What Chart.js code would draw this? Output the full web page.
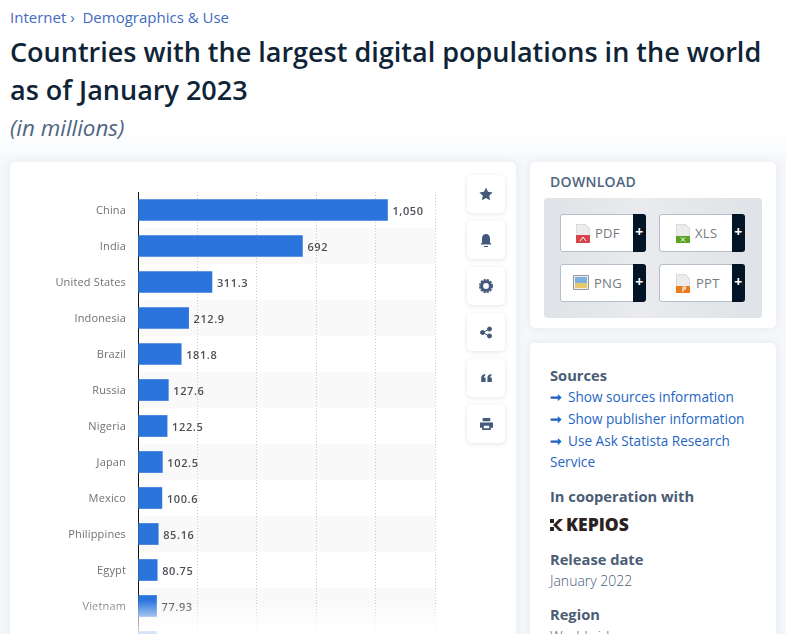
<!DOCTYPE html>
<html>
<head>
<meta charset="utf-8">
<title>Digital populations</title>
<script src="https://cdn.jsdelivr.net/npm/chart.js@4/dist/chart.umd.min.js"></script>
<style>
  html, body { margin: 0; padding: 0; width: 786px; height: 634px; overflow: hidden; font-family: "Open Sans", sans-serif; }
  body { background: linear-gradient(#fff 130px, #f5f7fa 165px); }
  .abs, .card, .side, .btn { position: absolute; }
  .line { position: absolute; white-space: nowrap; line-height: 22px; }
  .crumb { left: 10px; top: 6px; font-size: 15px; color: #3f6bc0; }
  h1 { position: absolute; left: 10px; top: 33px; margin: 0; font-size: 27px; line-height: 38px; font-weight: 600; color: #0f2437; width: 765px; }
  .sub { left: 10px; top: 114px; font-size: 22.4px; line-height: 28px; font-style: italic; color: #4e6580; }
  .card { background: #fff; border-radius: 5px; box-shadow: 0 0 8px rgba(90,110,140,.10); }
  .side { left: 467px; width: 38px; height: 38px; background: #fff; border-radius: 5px; box-shadow: 0 1px 5px rgba(90,110,140,.18); display: flex; align-items: center; justify-content: center; }
  .grey { position: absolute; left: 544px; top: 198px; width: 218px; height: 120px; border-radius: 4px; background: linear-gradient(90deg, #dfe2e6, #e9ebee 45%, #dfe2e6); }
  .btn { width: 86px; height: 38px; background: #fff; border: 1px solid #b5bdc8; border-radius: 3px; box-sizing: border-box; font-size: 13px; color: #757b82; letter-spacing: .3px; }
  .btn b { position: absolute; right: -1px; top: -1px; width: 13px; height: 38px; background: #031426; color: #fff; border-radius: 0 3px 3px 0; text-align: center; font-size: 14px; line-height: 36px; }
  .btn span { position: absolute; top: 9px; }
  .btn svg { position: absolute; top: 9px; }
  .head { font-size: 14.7px; font-weight: 700; color: #4a5d75; }
  .link { font-size: 13.6px; color: #1f66c4; }
  .link i { font-style: normal; display: inline-block; width: 18px; font-weight: 700; }
  .plain { font-size: 14px; font-weight: 300; color: #4a5d75; }
  #wrap { position: absolute; left: 10px; top: 162px; width: 450px; height: 520px; }
  #fade { position: absolute; left: 10px; top: 600px; width: 506px; height: 34px; background: linear-gradient(rgba(255,255,255,0), rgba(255,255,255,.55) 16px, rgba(255,255,255,.8) 31px); }
</style>
</head>
<body>
<div class="line crumb">Internet › &nbsp;Demographics &amp; Use</div>
<h1>Countries with the largest digital populations in the world as of January 2023</h1>
<div class="line sub">(in millions)</div>

<div class="card" style="left:10px;top:162px;width:506px;height:490px"></div>
<div id="wrap"><canvas id="chart" width="450" height="520"></canvas></div>
<div id="fade"></div>

<div class="side" style="top:175px"><svg width="14" height="14" viewBox="0 0 24 24" fill="#43597a"><path d="M12 1l3.4 7.3 7.9 1-5.8 5.5 1.500 7.9L12 18.800l-7 3.900 1.500-7.900L.7 9.300l7.900-1z"/></svg></div>
<div class="side" style="top:221px"><svg width="12" height="15" viewBox="0 0 24 28" fill="#43597a"><path d="M12 1c5 0 8 4 8 9v8l3 4H1l3-4v-8c0-5 3-9 8-9zM8 25h8v2H8z"/></svg></div>
<div class="side" style="top:267px"><svg width="14" height="14" viewBox="0 0 24 24"><circle cx="12" cy="12" r="7.5" fill="none" stroke="#43597a" stroke-width="5"/><circle cx="12" cy="12" r="10.500" fill="none" stroke="#43597a" stroke-width="3" stroke-dasharray="4 1.500"/></svg></div>
<div class="side" style="top:313px"><svg width="12" height="13" viewBox="0 0 24 24" fill="#43597a" stroke="#43597a" stroke-width="2"><circle cx="5" cy="12" r="4"/><circle cx="19" cy="5" r="4"/><circle cx="19" cy="19" r="4"/><path d="M19 5L5 12l14 7" fill="none"/></svg></div>
<div class="side" style="top:359px"><svg width="11" height="8" viewBox="0 0 24 18" fill="#43597a"><path d="M0 18V9c0-5 3-8 9-9v4C7 4.500 6 6 6 8h4v10zM14 18V9c0-5 3-8 9-9v4c-2 .5-3 2-3 4h4v10z"/></svg></div>
<div class="side" style="top:405px"><svg width="13" height="12" viewBox="0 0 24 22" fill="#43597a"><path d="M5 0h14v6H5zM0 8h24v10h-4v4H4v-4H0zm7 6v5h10v-5z"/></svg></div>

<div class="card" style="left:530px;top:162px;width:246px;height:166px"></div>
<div class="line" style="left:550px;top:171px;font-size:14px;font-weight:600;color:#4e6580;letter-spacing:.3px">DOWNLOAD</div>
<div class="grey"></div>
<div class="btn" style="left:560px;top:214px"><svg style="left:15px" width="14" height="19" viewBox="0 0 14 19"><path d="M0 0h9l5 5v14H0z" fill="#ececec" stroke="#bbb" stroke-width=".6"/><path d="M0 11h14v8H0z" fill="#d6444c"/><path d="M4 17l3-4 3 4" fill="none" stroke="#fff"/></svg><span style="left:34px">PDF</span><b>+</b></div>
<div class="btn" style="left:659px;top:214px"><svg style="left:16px" width="14" height="19" viewBox="0 0 14 19"><path d="M0 0h9l5 5v14H0z" fill="#ececec" stroke="#bbb" stroke-width=".6"/><path d="M0 12h14v7H0z" fill="#5da327"/><path d="M5 13.500l4 4m0-4l-4 4" stroke="#fff"/></svg><span style="left:35px">XLS</span><b>+</b></div>
<div class="btn" style="left:560px;top:264px"><svg style="left:12px;top:10px" width="16" height="15" viewBox="0 0 16 15"><path d="M.5.500h15v14H.5z" fill="#eee" stroke="#999"/><path d="M2 2h12v6H2z" fill="#7cb0e0"/><path d="M2 8h12v5H2z" fill="#e9c86d"/></svg><span style="left:33px">PNG</span><b>+</b></div>
<div class="btn" style="left:659px;top:264px"><svg style="left:16px" width="14" height="19" viewBox="0 0 14 19"><path d="M0 0h9l5 5v14H0z" fill="#ececec" stroke="#bbb" stroke-width=".6"/><path d="M0 12h14v7H0z" fill="#e87c1e"/><path d="M7 18v-5h2.500v2H7" fill="none" stroke="#fff"/></svg><span style="left:36px">PPT</span><b>+</b></div>

<div class="card" style="left:530px;top:343px;width:246px;height:320px"></div>
<div class="line head" style="left:550px;top:364px">Sources</div>
<div class="line link" style="left:550px;top:386px"><i>➞</i>Show sources information</div>
<div class="line link" style="left:550px;top:408px"><i>➞</i>Show publisher information</div>
<div class="line link" style="left:550px;top:430px"><i>➞</i>Use Ask Statista Research</div>
<div class="line link" style="left:550px;top:451px">Service</div>
<div class="line head" style="left:550px;top:485px">In cooperation with</div>
<div class="line" style="left:550px;top:513px;font-size:17.5px;font-weight:800;color:#2b2320"><svg width="14" height="12" viewBox="0 0 14 12" style="margin-right:2px"><path d="M0 0h4v4H0zM0 8h4v4H0zM13 0L7 6l6 6H9L3 6l6-6z" fill="#2b2320"/></svg>KEPIOS</div>
<div class="line head" style="left:550px;top:548px">Release date</div>
<div class="line plain" style="left:550px;top:570px">January 2022</div>
<div class="line head" style="left:550px;top:603px">Region</div>
<div class="line plain" style="left:550px;top:626px">Worldwide</div>

<script>
  // 13th row is cut off by the window, its label can't be read
  var categories = ['China', 'India', 'United States', 'Indonesia', 'Brazil', 'Russia', 'Nigeria', 'Japan', 'Mexico', 'Philippines', 'Egypt', 'Vietnam', ''];
  var users = [1050, 692, 311.3, 212.9, 181.8, 127.6, 122.5, 102.5, 100.6, 85.16, 80.75, 77.93, 77];
  var valueLabels = ['1,050', '692', '311.3', '212.9', '181.8', '127.6', '122.5', '102.5', '100.6', '85.16', '80.75', '77.93', ''];
  var gridTicks = [0, 250, 500, 750, 1000, 1250];

  // grey band on every second row
  var rowBands = {
    id: 'rowBands',
    beforeDraw: function(chart) {
      var ctx = chart.ctx, area = chart.chartArea, y = chart.scales.y;
      var rowH = y.getPixelForValue(1) - y.getPixelForValue(0);
      ctx.save();
      ctx.fillStyle = '#f9f9f9';
      categories.forEach(function(c, i) {
        if (i % 2 == 1) {
          ctx.fillRect(area.left, y.getPixelForValue(i) - rowH / 2, area.right - area.left, rowH);
        }
      });
      ctx.restore();
      ctx.letterSpacing = '0.15px';
    }
  };

  var valueText = {
    id: 'valueText',
    afterDatasetsDraw: function(chart) {
      var ctx = chart.ctx, meta = chart.getDatasetMeta(0);
      ctx.save();
      ctx.font = '600 11px "Open Sans"';
      ctx.fillStyle = '#4d5156';
      ctx.textBaseline = 'middle';
      ctx.letterSpacing = '0.6px';
      meta.data.forEach(function(bar, i) {
        ctx.fillText(valueLabels[i], bar.x + 5, bar.y + 1.5);
      });
      ctx.restore();
    }
  };

  new Chart(document.getElementById('chart'), {
    type: 'bar',
    data: {
      labels: categories,
      datasets: [{
        data: users,
        backgroundColor: '#2a74dc',
        barThickness: 21
      }]
    },
    plugins: [rowBands, valueText],
    options: {
      indexAxis: 'y',
      responsive: false,
      animation: false,
      layout: { padding: { left: 0, top: 30, right: 25, bottom: 22 } },
      plugins: { legend: { display: false }, tooltip: { enabled: false } },
      scales: {
        x: {
          min: 0,
          max: 1250,
          afterBuildTicks: function(scale) {
            scale.ticks = gridTicks.map(function(v) { return { value: v }; });
          },
          border: { display: false, dash: [1, 2] },
          grid: { color: '#c9c9c9', lineWidth: 1, tickLength: 0, drawTicks: false },
          ticks: { display: false }
        },
        y: {
          afterFit: function(scale) { scale.width = 128; },
          border: { display: true, color: '#111', width: 1 },
          grid: { display: false },
          ticks: {
            color: '#6e7275',
            padding: 4,
            labelOffset: 1,
            autoSkip: false,
            font: { family: '"Open Sans"', size: 11 }
          }
        }
      }
    }
  });
</script>
</body>
</html>
